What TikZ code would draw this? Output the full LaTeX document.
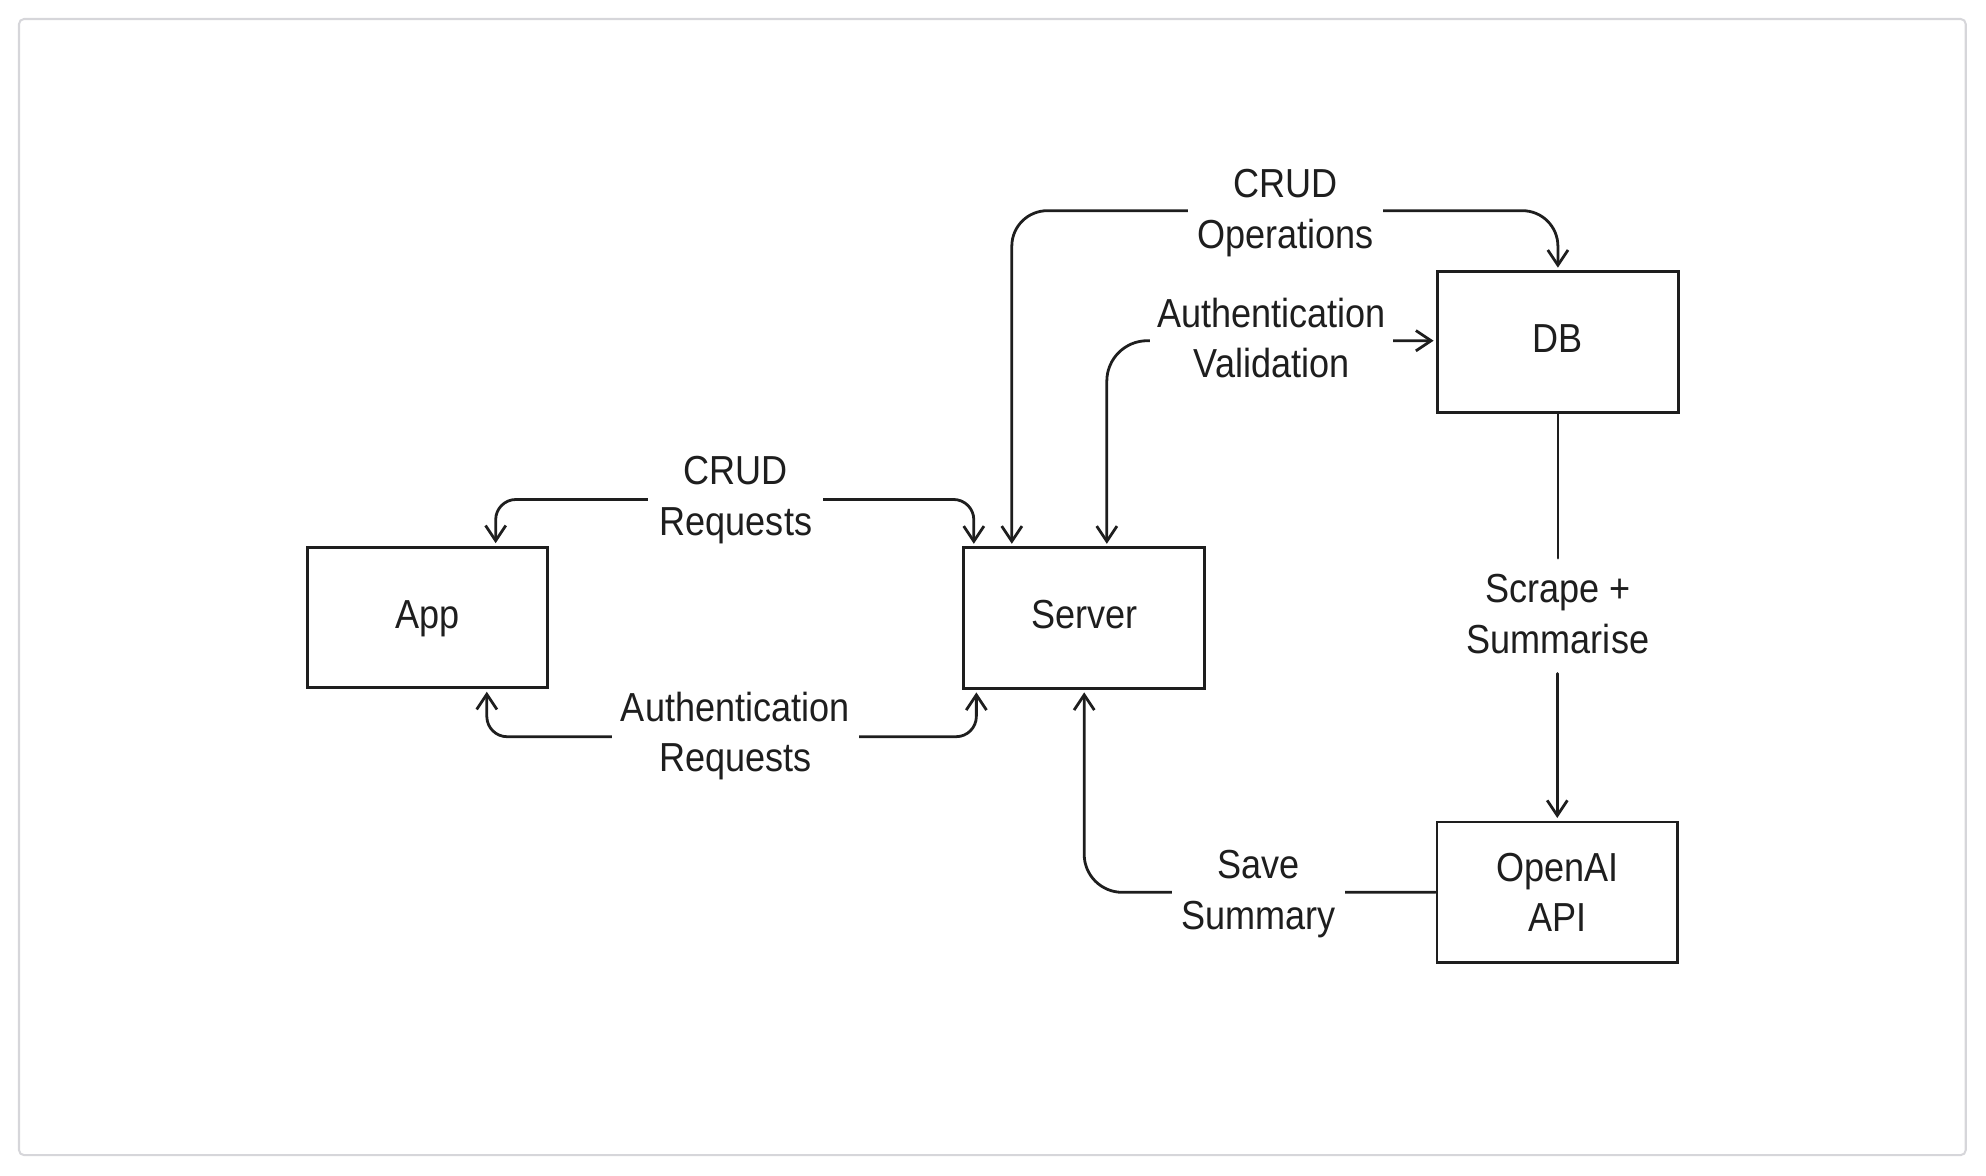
\documentclass[tikz,border=0pt]{standalone}
\usepackage{fontspec}
\setmainfont{Liberation Sans}[FakeStretch=0.89]
\usetikzlibrary{arrows.meta,calc}
\definecolor{ink}{HTML}{1E1E1E}
\definecolor{framegray}{HTML}{D6D6DA}
\begin{document}
\begin{tikzpicture}[x=1pt,y=-1pt,
  >={Straight Barb[length=12pt,width=16pt]},
  box/.style={draw=ink,line width=2.3pt,minimum width=190pt,minimum height=111pt,inner sep=0pt,align=center,text=ink,font=\fontsize{32}{40}\selectfont},
  onebox/.style={box,text height=17pt,text depth=0pt},
  lbl/.style={fill=white,inner sep=0pt,align=center,text=ink,font=\fontsize{32}{40}\selectfont},
  conn/.style={draw=ink,line width=2.2pt,line cap=round,line join=round}]
\useasboundingbox (0,0) rectangle (1568,928);
\draw[framegray,line width=1.6pt,rounded corners=4pt] (15,15) rectangle (1552,912);

% boxes
\node[onebox] (app) at (337.5,487.5) {App};
\node[onebox] (server) at (856,488) {Server};
\node[onebox] (db) at (1230,270) {DB};
\node[box] (openai) at (1229.5,704.5) {OpenAI\\API};

% connectors
\draw[conn,<->,rounded corners=16pt] ($(app.north west)+(150,-2)$) |- ($(server.north west)+(9,-37)$) -- ($(server.north west)+(9,-2)$);
\draw[conn,<->,rounded corners=16pt] ($(app.south west)+(143,2)$) |- ($(server.south west)+(11,37)$) -- ($(server.south west)+(11,2)$);
\draw[conn,<->,rounded corners=28pt] ($(server.north west)+(39,-2)$) |- ($(db.north)+(0,-47)$) -- ($(db.north)+(0,-2)$);
\draw[conn,<->,rounded corners=32pt] ($(server.north west)+(114,-2)$) |- ($(db.west)+(-2,-1)$);
\draw[conn] (db.south) -- ($(db.south)+(0,114)$);
\draw[conn,->] ($(openai.north)+(0,-116)$) -- ($(openai.north)+(0,-2)$);
\draw[conn,->,rounded corners=30pt] (openai.west) -| ($(server.south)+(0,2)$);

% labels
\node[lbl,minimum width=138pt] (lcrudreq) at (581,395) {CRUD\\Requests};
\node[lbl,minimum width=195pt] (lauthreq) at (580.5,581) {Authentication\\Requests};
\node[lbl,minimum width=154pt] (lcrudops) at (1015,168) {CRUD\\Operations};
\node[lbl,minimum width=192pt] (lauthval) at (1004,267) {Authentication\\Validation};
\node[lbl] (lscrape) at (1230,485) {Scrape +\\Summarise};
\node[lbl,minimum width=137pt] (lsave) at (993.5,706) {Save\\Summary};
\end{tikzpicture}
\end{document}
